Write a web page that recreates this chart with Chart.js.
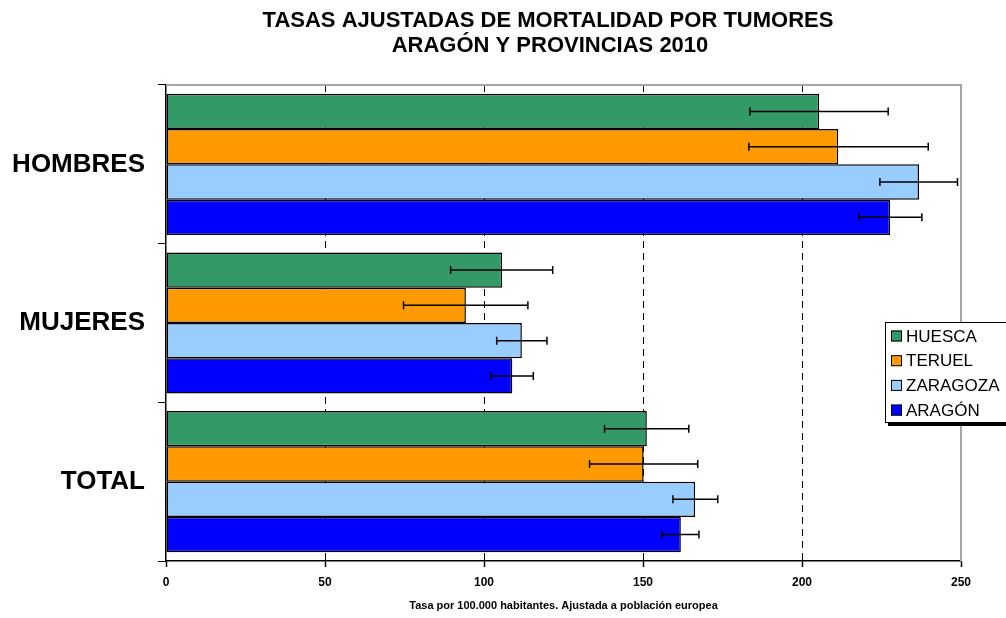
<!DOCTYPE html>
<html>
<head>
<meta charset="utf-8">
<script src="https://cdn.jsdelivr.net/npm/chart.js@4/dist/chart.umd.min.js"></script>
<style>
  html, body { margin: 0; padding: 0; background: #ffffff; }
  #wrap { width: 1006px; height: 618px; position: relative; }
</style>
</head>
<body>
<div id="wrap"><canvas id="tumorChart"></canvas></div>
<script>
// Data
const categories = ["HOMBRES", "MUJERES", "TOTAL"];
const seriesNames = ["HUESCA", "TERUEL", "ZARAGOZA", "ARAGÓN"];

const huesca = [205.4, 105.7, 151.2];
const huescaLow = [183.6, 89.5, 137.9];
const huescaHigh = [227.1, 121.6, 164.4];

const teruel = [211.4, 94.3, 150.2];
const teruelLow = [183.3, 74.7, 133.2];
const teruelHigh = [239.7, 113.8, 167.2];

const zaragoza = [236.8, 111.9, 166.4];
const zaragozaLow = [224.5, 104.0, 159.4];
const zaragozaHigh = [248.9, 119.8, 173.5];

const aragon = [227.7, 108.9, 161.9];
const aragonLow = [217.9, 102.1, 156.0];
const aragonHigh = [237.7, 115.5, 167.6];

const xTicks = [0, 50, 100, 150, 200, 250];

const titleLines = ["TASAS AJUSTADAS DE MORTALIDAD POR TUMORES", "ARAGÓN Y PROVINCIAS 2010"];
const xAxisTitle = "Tasa por 100.000 habitantes. Ajustada a población europea";

const seriesColors = ["#339966", "#FF9900", "#99CCFF", "#0000FF"];
const FONT = "'Liberation Sans', Arial, sans-serif";

function makeDataset(i, values, low, high) {
    return {
        label: seriesNames[i],
        data: values,
        errLow: low,
        errHigh: high,
        backgroundColor: seriesColors[i],
        borderColor: "#000000",
        borderWidth: 1.5,
        borderSkipped: false,
        categoryPercentage: 0.89,
        barPercentage: 1.0
    };
}

// Title
const titlePlugin = {
    id: "titleText",
    afterDraw(chart) {
        const ctx = chart.ctx;
        ctx.save();
        ctx.fillStyle = "#000000";
        ctx.font = "bold 22px " + FONT;
        ctx.textAlign = "center";
        ctx.textBaseline = "middle";
        ctx.fillText(titleLines[0], 548, 21);
        ctx.fillText(titleLines[1], 550, 46);
        ctx.restore();
    }
};

// Plot border (top / right)
const borderPlugin = {
    id: "plotBorder",
    beforeDatasetsDraw(chart) {
        const a = chart.chartArea;
        const ctx = chart.ctx;
        ctx.save();
        ctx.strokeStyle = "#a6a6a6";
        ctx.lineWidth = 2;
        ctx.beginPath();
        ctx.moveTo(a.left, a.top);
        ctx.lineTo(a.right, a.top);
        ctx.lineTo(a.right, a.bottom);
        ctx.stroke();
        ctx.restore();
    }
};

// Error bars
const errorBarPlugin = {
    id: "errorBars",
    afterDatasetsDraw(chart) {
        const ctx = chart.ctx;
        const xScale = chart.scales.x;
        ctx.save();
        ctx.strokeStyle = "#000000";
        ctx.lineWidth = 1.5;
        chart.data.datasets.forEach((ds, i) => {
            const meta = chart.getDatasetMeta(i);
            meta.data.forEach((bar, j) => {
                const x1 = xScale.getPixelForValue(ds.errLow[j]);
                const x2 = xScale.getPixelForValue(ds.errHigh[j]);
                const y = bar.y;
                ctx.beginPath();
                ctx.moveTo(x1, y);
                ctx.lineTo(x2, y);
                ctx.moveTo(x1, y - 4);
                ctx.lineTo(x1, y + 4);
                ctx.moveTo(x2, y - 4);
                ctx.lineTo(x2, y + 4);
                ctx.stroke();
            });
        });
        ctx.restore();
    }
};

// Legend box
const legendPlugin = {
    id: "legendBox",
    afterDraw(chart) {
        const ctx = chart.ctx;
        const left = 885, top = 322, width = 130, height = 100;
        ctx.save();
        ctx.fillStyle = "#000000";
        ctx.fillRect(left + 3, top + 3, width, height + 1);
        ctx.fillStyle = "#ffffff";
        ctx.fillRect(left, top, width, height);
        ctx.strokeStyle = "#000000";
        ctx.lineWidth = 1;
        ctx.strokeRect(left + 0.5, top + 0.5, width, height);
        ctx.font = "17px " + FONT;
        ctx.textBaseline = "middle";
        chart.data.datasets.forEach((ds, i) => {
            const cy = top + 14 + i * 24.7;
            ctx.fillStyle = ds.backgroundColor;
            ctx.fillRect(left + 6, cy - 5.5, 11, 11);
            ctx.strokeStyle = "#000000";
            ctx.strokeRect(left + 6.5, cy - 5, 10, 10);
            ctx.fillStyle = "#000000";
            ctx.fillText(ds.label, left + 21, cy + 1);
        });
        ctx.restore();
    }
};

const chart = new Chart(document.getElementById("tumorChart"), {
    type: "bar",
    data: {
        labels: categories,
        datasets: [
            makeDataset(0, huesca, huescaLow, huescaHigh),
            makeDataset(1, teruel, teruelLow, teruelHigh),
            makeDataset(2, zaragoza, zaragozaLow, zaragozaHigh),
            makeDataset(3, aragon, aragonLow, aragonHigh)
        ]
    },
    options: {
        indexAxis: "y",
        responsive: true,
        maintainAspectRatio: false,
        animation: false,
        layout: {
            padding: { top: 85, right: 45, left: 0, bottom: 0 }
        },
        plugins: {
            legend: { display: false },
            title: { display: false },
            tooltip: { enabled: false }
        },
        scales: {
            x: {
                min: 0,
                max: 250,
                afterBuildTicks(scale) {
                    scale.ticks = xTicks.map(v => ({ value: v }));
                },
                afterFit(scale) {
                    scale.height = 57;
                },
                border: {
                    display: true,
                    color: "#000000",
                    width: 1.5,
                    dash: [7, 5]
                },
                grid: {
                    color: c => (c.tick && (c.tick.value === 0 || c.tick.value === 250)) ? "rgba(0,0,0,0)" : "#000000",
                    lineWidth: 1,
                    tickColor: "#000000",
                    tickLength: 6,
                    tickBorderDash: [],
                    tickWidth: 1.5
                },
                ticks: {
                    color: "#000000",
                    padding: 8,
                    font: { family: FONT, size: 12, weight: "bold" }
                },
                title: {
                    display: true,
                    text: xAxisTitle,
                    color: "#000000",
                    padding: { top: 0, bottom: 5 },
                    font: { family: FONT, size: 11, weight: "bold" }
                }
            },
            y: {
                afterFit(scale) {
                    scale.width = 166;
                },
                border: {
                    display: true,
                    color: "#000000",
                    width: 1.5
                },
                grid: {
                    drawOnChartArea: false,
                    drawTicks: true,
                    tickLength: 8,
                    color: "#000000",
                    tickColor: "#000000"
                },
                ticks: {
                    color: "#000000",
                    padding: 13,
                    font: { family: FONT, size: 26, weight: "bold" }
                }
            }
        }
    },
    plugins: [borderPlugin, errorBarPlugin, titlePlugin, legendPlugin]
});
</script>
</body>
</html>
